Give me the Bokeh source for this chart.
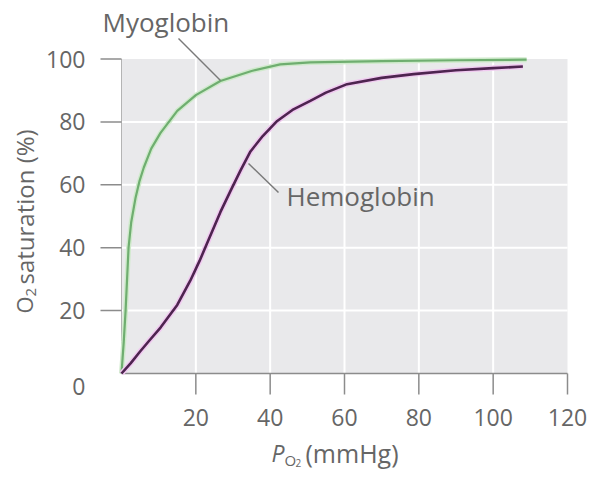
import math
from bokeh.plotting import figure
from bokeh.models import Range1d
from bokeh.core.properties import value
from bokeh.embed import file_html
from bokeh.resources import INLINE

# ---- data ----
myo_po2 = [0, 0.3, 0.6, 1.1, 1.5, 1.9, 2.6, 3.8, 4.8, 6, 8, 10.5, 15, 20, 26.6, 35, 42.7, 50.8, 70, 90, 109]
myo_sat = [0, 5, 10, 20, 30, 40, 48, 56, 61, 65.5, 71.5, 76.5, 83.5, 88.5, 93, 96.2, 98.3, 98.9, 99.3, 99.6, 99.8]
hb_po2 = [0, 2.5, 5, 7.5, 10.5, 12.5, 15, 18.5, 21, 23, 26.6, 29.3, 32, 34.7, 38, 41.9, 46, 50.8, 55, 60.7, 70, 78.6, 90, 100, 108]
hb_sat = [0, 3.3, 7, 10.5, 14.6, 17.8, 21.8, 29.5, 35.8, 41.3, 51.3, 58, 64.5, 70.6, 75.5, 80.3, 83.8, 86.7, 89.3, 92, 94, 95.2, 96.4, 97.1, 97.6]
x_ticks = [20, 40, 60, 80, 100, 120]
y_ticks = [20, 40, 60, 80, 100]
grid_y = [20, 40, 60, 80]
grid_x = [20, 40, 60, 80, 100]
X_MAX, Y_MAX = 120, 100

FONT = "Open Sans"
TXT = "#666666"
AXIS = "#8c8c8c"

W, H = 588, 470
FL, FB = 121, 373            # pixel position of data (0, 0)
X_SCALE = (567 - FL) / X_MAX  # px per mmHg
Y_SCALE = (FB - 58.5) / Y_MAX  # px per %


def dx(px):  # pixel -> data x
    return (px - FL) / X_SCALE


def dy(py):  # pixel -> data y
    return (FB - py) / Y_SCALE


p = figure(width=W, height=H, output_backend="svg", toolbar_location=None,
           x_range=Range1d(dx(0), dx(W)), y_range=Range1d(dy(H), dy(0)),
           x_axis_location=None, y_axis_location=None, title=None,
           min_border=0)
p.outline_line_color = None
p.grid.visible = False
p.background_fill_color = "white"
p.border_fill_color = "white"

# plot area
p.quad(left=[0], right=[X_MAX], bottom=[0], top=[Y_MAX], fill_color="#e9e9eb", line_color=None)

# grid lines
p.segment(x0=grid_x, y0=[0] * len(grid_x), x1=grid_x, y1=[Y_MAX] * len(grid_x),
          line_color="white", line_width=2)
p.segment(x0=[0] * len(grid_y), y0=grid_y, x1=[X_MAX] * len(grid_y), y1=grid_y,
          line_color="white", line_width=2)

# axis lines
p.segment(x0=[0], y0=[0], x1=[X_MAX], y1=[0], line_color=AXIS, line_width=1.5)
p.segment(x0=[0], y0=[0], x1=[0], y1=[Y_MAX], line_color="#b4b4b4", line_width=1)

# ticks
TICK = 21
p.segment(x0=x_ticks, y0=[0] * len(x_ticks), x1=x_ticks, y1=[-TICK / Y_SCALE] * len(x_ticks),
          line_color=AXIS, line_width=1.5)
p.segment(x0=[0] * len(y_ticks), y0=y_ticks, x1=[-TICK / X_SCALE] * len(y_ticks), y1=y_ticks,
          line_color=AXIS, line_width=1.5)

# curves (light halo under dark line)
p.line(myo_po2, myo_sat, line_color="#cfeacb", line_width=5)
p.line(myo_po2, myo_sat, line_color="#6fae70", line_width=2.2)
p.line(hb_po2, hb_sat, line_color="#f0caf0", line_width=5.5)
p.line(hb_po2, hb_sat, line_color="#4e2450", line_width=2.6)

# leader lines
p.segment(x0=[dx(178), dx(248)], y0=[dy(38), dy(163)], x1=[dx(220), dx(278)], y1=[dy(80), dy(192)],
          line_color="#7a7a7a", line_width=1.5)

# tick labels
p.text(x=x_ticks, y=[-(TICK + 14) / Y_SCALE] * len(x_ticks), text=[str(t) for t in x_ticks],
       text_font=value(FONT), text_font_size=value("23px"), text_color=TXT,
       text_align="center", text_baseline="top")
p.text(x=[-(TICK + 15) / X_SCALE] * len(y_ticks), y=y_ticks, text=[str(t) for t in y_ticks],
       text_font=value(FONT), text_font_size=value("23px"), text_color=TXT,
       text_align="right", text_baseline="middle")


def txt(s, px, py, size, angle=0.0, style="normal", align="left"):
    p.text(x=[dx(px)], y=[dy(py)], text=[s], text_font=value(FONT), text_font_size=value(size),
           text_color=TXT, text_font_style=value(style), angle=angle,
           text_align=align, text_baseline="middle")


txt("0", 85, 386, "23px", align="right")
txt("Myoglobin", 102, 21, "26px")
txt("Hemoglobin", 286, 195, "26px")

# y-axis title: O2 saturation (%)
txt("O", 23, 313, "22px", angle=math.pi / 2)
txt("2", 30, 296, "15px", angle=math.pi / 2)
txt("saturation (%)", 24, 284, "24px", angle=math.pi / 2)

# x-axis title: P_O2 (mmHg)
txt("P", 271, 452, "23px", style="italic")
txt("O", 284, 459, "15px")
txt("2", 295, 462, "10px")
txt("(mmHg)", 305, 452, "25px")

open("out.html", "w").write(file_html(p, INLINE))
